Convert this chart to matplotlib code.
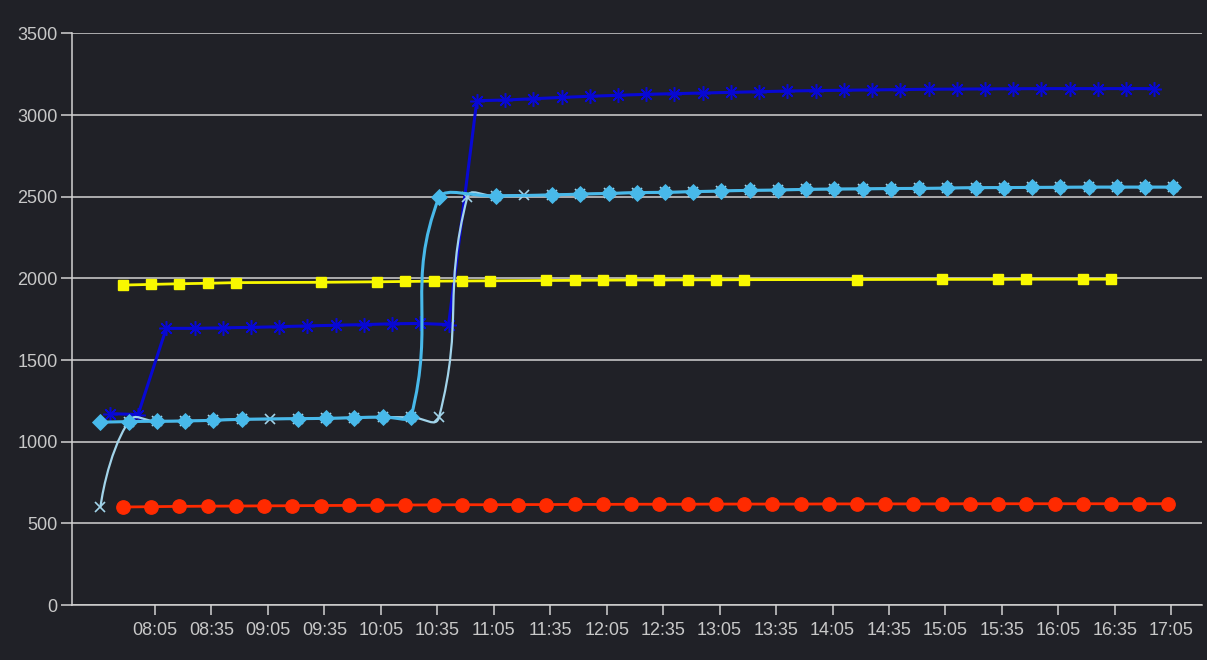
import math
import matplotlib
matplotlib.use("Agg")
import matplotlib.pyplot as plt
from matplotlib.path import Path
from matplotlib.patches import PathPatch

# ---------------- data ----------------
red_times = ["07:48", "08:03", "08:18", "08:33", "08:48", "09:03", "09:18", "09:33",
             "09:48", "10:03", "10:18", "10:33", "10:48", "11:03", "11:18", "11:33",
             "11:48", "12:03", "12:18", "12:33", "12:48", "13:03", "13:18", "13:33",
             "13:48", "14:03", "14:18", "14:33", "14:48", "15:03", "15:18", "15:33",
             "15:48", "16:03", "16:18", "16:33", "16:48", "17:03"]
red_values = [600, 602, 604, 605, 606, 607, 608, 609, 610, 611, 612, 613, 614, 614,
              615, 615, 616, 616, 617, 617, 617, 618, 618, 618, 618, 619, 619, 619,
              619, 619, 620, 620, 620, 620, 620, 620, 620, 620]

yellow_times = ["07:48", "08:03", "08:18", "08:33", "08:48", "09:33", "10:03", "10:18",
                "10:33", "10:48", "11:03", "11:33", "11:48", "12:03", "12:18", "12:33",
                "12:48", "13:03", "13:18", "14:18", "15:03", "15:33", "15:48", "16:18",
                "16:33"]
yellow_values = [1959, 1963, 1967, 1970, 1974, 1976, 1979, 1981, 1983, 1984, 1985,
                 1987, 1988, 1989, 1990, 1990, 1991, 1991, 1992, 1993, 1994, 1994,
                 1995, 1995, 1995]

navy_times = ["07:41", "07:56", "08:11", "08:26", "08:41", "08:56", "09:11", "09:26",
              "09:41", "09:56", "10:11", "10:26", "10:41", "10:56", "11:11", "11:26",
              "11:41", "11:56", "12:11", "12:26", "12:41", "12:56", "13:11", "13:26",
              "13:41", "13:56", "14:11", "14:26", "14:41", "14:56", "15:11", "15:26",
              "15:41", "15:56", "16:11", "16:26", "16:41", "16:56"]
navy_values = [1172, 1166, 1694, 1694, 1697, 1700, 1704, 1709, 1713, 1717, 1722, 1724,
               1717, 3088, 3092, 3100, 3108, 3115, 3121, 3127, 3131, 3135, 3139, 3143,
               3147, 3150, 3152, 3154, 3156, 3158, 3159, 3160, 3161, 3162, 3162, 3162,
               3162, 3162]

sky_times = ["07:36", "07:51", "08:06", "08:21", "08:36", "08:51", "09:21", "09:36",
             "09:51", "10:06", "10:21", "10:36", "11:06", "11:36", "11:51", "12:06",
             "12:21", "12:36", "12:51", "13:06", "13:21", "13:36", "13:51", "14:06",
             "14:21", "14:36", "14:51", "15:06", "15:21", "15:36", "15:51", "16:06",
             "16:21", "16:36", "16:51", "17:06"]
sky_values = [1119, 1123, 1125, 1127, 1131, 1137, 1141, 1143, 1147, 1151, 1149, 2500,
              2505, 2511, 2516, 2520, 2525, 2527, 2531, 2535, 2539, 2541, 2545, 2547,
              2548, 2550, 2551, 2553, 2555, 2556, 2557, 2558, 2559, 2559, 2559, 2559]

pale_times = ["07:36", "07:51", "08:06", "08:21", "08:36", "08:51", "09:06", "09:21",
              "09:36", "09:51", "10:06", "10:21", "10:36", "10:51", "11:06", "11:21",
              "11:36", "11:51", "12:06", "12:21", "12:36", "12:51", "13:06", "13:21",
              "13:36", "13:51", "14:06", "14:21", "14:36", "14:51", "15:06", "15:21",
              "15:36", "15:51", "16:06", "16:21", "16:36", "16:51", "17:06"]
pale_values = [600, 1123, 1125, 1127, 1131, 1137, 1138, 1141, 1143, 1147, 1151, 1149,
               1153, 2500, 2505, 2509, 2511, 2516, 2520, 2525, 2527, 2531, 2535, 2539,
               2541, 2545, 2547, 2548, 2550, 2551, 2553, 2555, 2556, 2557, 2558, 2559,
               2559, 2559, 2559]

tick_labels = ["08:05", "08:35", "09:05", "09:35", "10:05", "10:35", "11:05", "11:35",
               "12:05", "12:35", "13:05", "13:35", "14:05", "14:35", "15:05", "15:35",
               "16:05", "16:35", "17:05"]
y_ticks = [0, 500, 1000, 1500, 2000, 2500, 3000, 3500]


def to_min(s):
    h, m = s.split(":")
    return int(h) * 60 + int(m)


# ---------------- style ----------------
BG = "#202127"
GRID = "#d2d2d2"
TXT = "#c8c8c8"
FONT = ["Liberation Sans", "DejaVu Sans"]
plt.rcParams["font.family"] = FONT

W, H = 1207, 660
fig = plt.figure(figsize=(W / 100, H / 100), dpi=100, facecolor=BG)
ax = fig.add_axes([71.6 / W, 55 / H, (1202 - 71.6) / W, 571.6 / H], facecolor=BG)

ax.set_xlim(440.7, 1041.3)
ax.set_ylim(0, 3500)

for sp in ["top", "right"]:
    ax.spines[sp].set_visible(False)
for sp in ["left", "bottom"]:
    ax.spines[sp].set_color(GRID)
    ax.spines[sp].set_linewidth(1.1)

ax.set_yticks(y_ticks)
ax.set_yticklabels([str(v) for v in y_ticks])
ax.set_xticks([to_min(t) for t in tick_labels])
ax.set_xticklabels(tick_labels)
ax.tick_params(axis="y", colors=GRID, labelcolor=TXT, labelsize=13, length=8, width=1.1, pad=2)
ax.tick_params(axis="x", colors=GRID, labelcolor=TXT, labelsize=13, length=7.5, width=1.1, pad=5)
ax.grid(axis="y", color=GRID, linewidth=1.1)
ax.set_axisbelow(True)


def smooth_line(times, values, color, lw, z, smooth=0.5):
    """Smoothed polyline (bezier control points from neighbour chords,
    constrained to the bounding box of the series points)."""
    xs_d = [to_min(t) for t in times]
    pts = ax.transData.transform(list(zip(xs_d, values)))
    xs = [p[0] for p in pts]
    ys = [p[1] for p in pts]
    xmin, xmax, ymin, ymax = min(xs), max(xs), min(ys), max(ys)

    def clamp(px, py):
        return min(max(px, xmin), xmax), min(max(py, ymin), ymax)

    n = len(xs)
    verts = [(xs[0], ys[0])]
    codes = [Path.MOVETO]
    cp0 = (xs[0], ys[0])
    for i in range(1, n):
        x, y = xs[i], ys[i]
        px, py = xs[i - 1], ys[i - 1]
        ratio = 0.5
        vx = vy = 0.0
        if i == n - 1:
            cp1 = (x, y)
        else:
            nx, ny = xs[i + 1], ys[i + 1]
            vx, vy = nx - px, ny - py
            lp = math.hypot(x - px, y - py)
            ln = math.hypot(nx - x, ny - y)
            ratio = ln / (ln + lp)
            cp1 = (x - vx * smooth * (1 - ratio), y - vy * smooth * (1 - ratio))
        c0 = clamp(*cp0)
        c1 = clamp(*cp1)
        verts += [c0, c1, (x, y)]
        codes += [Path.CURVE4] * 3
        cp0 = (x + vx * smooth * ratio, y + vy * smooth * ratio)
    dverts = ax.transData.inverted().transform(verts)
    patch = PathPatch(Path(dverts, codes), fill=False, edgecolor=color, lw=lw,
                      zorder=z, capstyle="round", joinstyle="round")
    ax.add_patch(patch)


# red
rx = [to_min(t) for t in red_times]
ax.plot(rx, red_values, color="#ff2a00", lw=2.0, zorder=3)
ax.plot(rx, red_values, ls="none", marker="o", ms=9.6, mfc="#ff2a00", mec="#ff2a00", zorder=3.1)

# navy
nx_ = [to_min(t) for t in navy_times]
ax.plot(nx_, navy_values, color="#0808d4", lw=2.2, zorder=4)
ax.plot(nx_, navy_values, ls="none", marker=(8, 2, 0), ms=10.5, mec="#0808d4", mew=1.1, zorder=4.1)

# yellow
yx = [to_min(t) for t in yellow_times]
ax.plot(yx, yellow_values, color="#f8f800", lw=2.0, zorder=5)
ax.plot(yx, yellow_values, ls="none", marker="s", ms=7.2, mfc="#f8f800", mec="#f8f800", zorder=5.1)

# pale (smooth, x markers)
smooth_line(pale_times, pale_values, "#a2d4ea", 1.6, 6)
ax.plot([to_min(t) for t in pale_times], pale_values, ls="none", marker="x", ms=6.5,
        mec="#a2d4ea", mew=1.2, zorder=6.1)

# sky (smooth, diamonds)
smooth_line(sky_times, sky_values, "#48b9ea", 2.2, 7)
ax.plot([to_min(t) for t in sky_times], sky_values, ls="none", marker="D", ms=8.6,
        mfc="#48b9ea", mec="#48b9ea", mew=0.6, zorder=7.1)

fig.savefig("out.png", dpi=100, facecolor=BG)
